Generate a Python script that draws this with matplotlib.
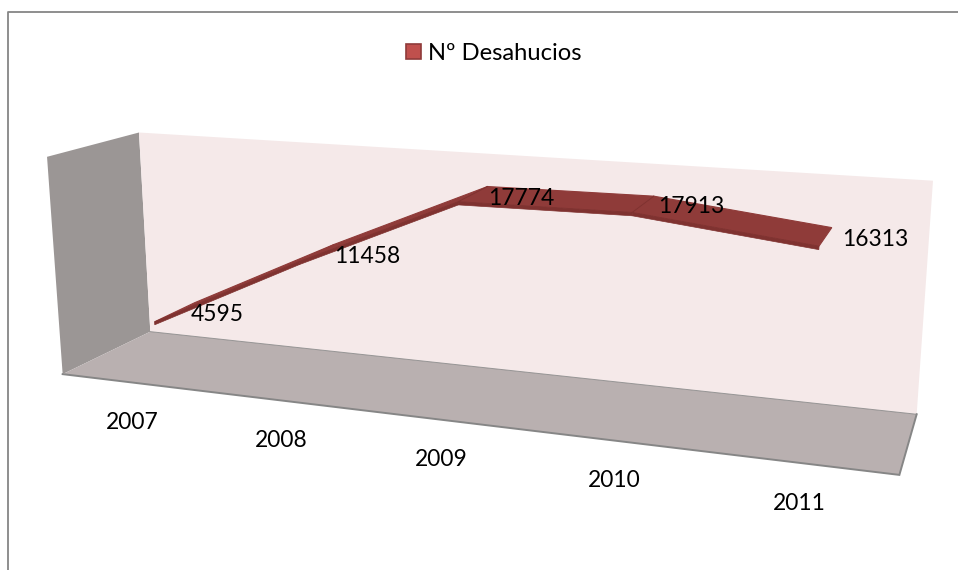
import numpy as np
import matplotlib
matplotlib.use("Agg")
import matplotlib.pyplot as plt
from matplotlib.patches import Polygon, Rectangle

# ---- data ----
years = ["2007", "2008", "2009", "2010", "2011"]
desahucios = [4595, 11458, 17774, 17913, 16313]
series_name = "Nº Desahucios"
axis_max = 20000

# ---- colours ----
WALL_LEFT = "#9b9695"
WALL_BACK = "#f5e9e9"
FLOOR = "#b9b0b0"
FLOOR_EDGE = "#868686"
RIBBON = "#8f3b39"
RIBBON_DARK = "#7f3230"
SWATCH = "#c0504d"
SWATCH_EDGE = "#8f3b3a"

plt.rcParams["font.family"] = ["Lato", "DejaVu Sans"]
FS = 16.4

# pixel position of the box corners (category, value, depth) -> picture
box_3d = np.array([
    [0, 0, 0], [1, 0, 0], [0, 0, 1], [1, 0, 1],
    [0, 1, 0], [0, 1, 1], [1, 1, 1],
], dtype=float)
box_px = np.array([
    [63, 374], [899, 476], [150, 332], [917, 413],
    [47, 156], [139, 133], [933, 181],
], dtype=float)


def fit_projection(p3, p2):
    rows = []
    for (x, y, z), (u, v) in zip(p3, p2):
        rows.append([x, y, z, 1, 0, 0, 0, 0, -u * x, -u * y, -u * z, -u])
        rows.append([0, 0, 0, 0, x, y, z, 1, -v * x, -v * y, -v * z, -v])
    _, _, vt = np.linalg.svd(np.array(rows))
    return vt[-1].reshape(3, 4)


P = fit_projection(box_3d, box_px)


def project(u, v, d):
    h = P @ np.array([u, v, d, 1.0])
    return h[0] / h[2], h[1] / h[2]


fig = plt.figure(figsize=(9.58, 5.70), dpi=100)
ax = fig.add_axes([0, 0, 1, 1])
ax.set_xlim(0, 958)
ax.set_ylim(570, 0)
ax.axis("off")

# chart frame, cut off by the picture at right and bottom
ax.plot([8, 8, 958], [570, 12, 12], color="#868686", lw=1.3)

# walls and floor
ax.add_patch(Polygon([project(0, 0, 0), project(0, 1, 0), project(0, 1, 1), project(0, 0, 1)],
                     fc=WALL_LEFT, ec="none"))
ax.add_patch(Polygon([project(0, 0, 1), project(0, 1, 1), project(1, 1, 1), project(1, 0, 1)],
                     fc=WALL_BACK, ec="none"))
ax.add_patch(Polygon([project(0, 0, 0), project(1, 0, 0), project(1, 0, 1), project(0, 0, 1)],
                     fc=FLOOR, ec="none"))
ax.plot(*zip(project(0, 0, 0), project(1, 0, 0), project(1, 0, 1)),
        color=FLOOR_EDGE, lw=1.4, solid_joinstyle="miter")
ax.plot(*zip(project(0, 0, 1), project(1, 0, 1)), color=FLOOR_EDGE, lw=0.7, alpha=0.8)

# ribbon: top face plus a thin front face below it
n = len(years)
us = [(i + 0.5) / n for i in range(n)]
vs = [val / axis_max for val in desahucios]
D_FRONT, D_BACK = 0.27, 0.75
THICK = 0.014
front = [project(u, v, D_FRONT) for u, v in zip(us, vs)]
back = [project(u, v, D_BACK) for u, v in zip(us, vs)]
lower = [project(u, v - THICK, D_FRONT) for u, v in zip(us, vs)]
mid = [project(u, v, 0.5) for u, v in zip(us, vs)]
for i in range(n - 1):
    ax.add_patch(Polygon([front[i], front[i + 1], back[i + 1], back[i]],
                         fc=RIBBON, ec=RIBBON, lw=0.8, zorder=3))
    ax.add_patch(Polygon([front[i], front[i + 1], lower[i + 1], lower[i]],
                         fc=RIBBON_DARK, ec=RIBBON_DARK, lw=0.5, zorder=3))
for f, b in zip(front[2:4], back[2:4]):
    ax.plot([f[0], b[0]], [f[1], b[1]], color=RIBBON_DARK, lw=0.7, zorder=4)

# value labels, Excel puts them to the right of the point
label_offset = [(43, 2), (51, 3), (49, 4), (48, 2), (50, 3)]
for (x, y), val, (dx, dy) in zip(mid, desahucios, label_offset):
    ax.text(x + dx, y + dy, str(val), fontsize=FS, color="black",
            ha="center", va="center", zorder=5)

# category labels
for i, yr in enumerate(years):
    x, y = project(us[i], 0, 0)
    ax.text(x - 1, y + 40, yr, fontsize=FS, color="black", ha="center", va="center")

# legend
ax.add_patch(Rectangle((406, 44), 15, 15, fc=SWATCH, ec=SWATCH_EDGE, lw=1.2))
ax.text(428, 53, series_name, fontsize=17.1, color="black", ha="left", va="center")

fig.savefig("out.png", dpi=100, facecolor="white")
